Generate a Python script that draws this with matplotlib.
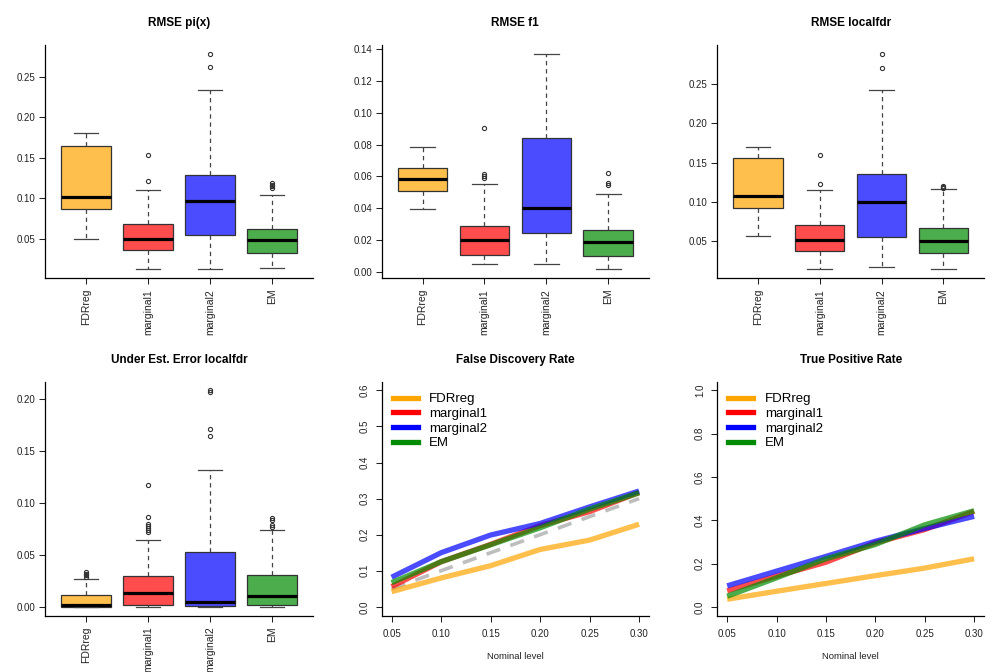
import numpy as np
import matplotlib
matplotlib.use("Agg")
import matplotlib.pyplot as plt

plt.rcParams["font.family"] = ["Liberation Sans", "DejaVu Sans"]

methods = ["FDRreg", "marginal1", "marginal2", "EM"]
line_colors = ["#FFA500", "#FF0000", "#0000FF", "#008B00"]

# boxplot summaries
pi_whislo = [0.050, 0.0123, 0.0131, 0.0143]
pi_q1 = [0.0873, 0.0365, 0.0545, 0.0328]
pi_med = [0.1016, 0.0496, 0.0963, 0.0488]
pi_q3 = [0.1644, 0.0689, 0.1287, 0.0627]
pi_whishi = [0.181, 0.1098, 0.2332, 0.104]
pi_fliers = [[], [0.154, 0.1213], [0.2787, 0.2623], [0.119, 0.117, 0.115, 0.113]]

f1_whislo = [0.0398, 0.0048, 0.0052, 0.0017]
f1_q1 = [0.0509, 0.0109, 0.0246, 0.0102]
f1_med = [0.0584, 0.0204, 0.0405, 0.0186]
f1_q3 = [0.0653, 0.0290, 0.0839, 0.0261]
f1_whishi = [0.0785, 0.0551, 0.137, 0.049]
f1_fliers = [[], [0.0903, 0.0617, 0.0603, 0.0590], [], [0.0624, 0.0557, 0.0545]]

lf_whislo = [0.0568, 0.0146, 0.0179, 0.015]
lf_q1 = [0.093, 0.0382, 0.0563, 0.0348]
lf_med = [0.1074, 0.0517, 0.1002, 0.0508]
lf_q3 = [0.1559, 0.0715, 0.1361, 0.0673]
lf_whishi = [0.1703, 0.1158, 0.2424, 0.1167]
lf_fliers = [[], [0.1593, 0.1234], [0.2884, 0.2698], [0.1209, 0.1195, 0.118]]

ue_whislo = [0.0, 0.0, 0.0, 0.0]
ue_q1 = [0.0003, 0.0022, 0.0006, 0.0022]
ue_med = [0.0015, 0.0132, 0.0051, 0.0106]
ue_q3 = [0.0116, 0.0299, 0.053, 0.0308]
ue_whishi = [0.0266, 0.0645, 0.1316, 0.0735]
ue_fliers = [[0.0334, 0.032, 0.0308, 0.029],
             [0.117, 0.0867, 0.080, 0.078, 0.076, 0.0735, 0.072],
             [0.208, 0.2067, 0.171, 0.1644],
             [0.0854, 0.0838, 0.0786, 0.077]]

levels = [0.05, 0.10, 0.15, 0.20, 0.25, 0.30]
fdr_fdrreg = [0.042, 0.080, 0.114, 0.159, 0.185, 0.229]
fdr_marg1 = [0.056, 0.125, 0.173, 0.225, 0.264, 0.317]
fdr_marg2 = [0.082, 0.150, 0.199, 0.231, 0.277, 0.321]
fdr_em = [0.067, 0.125, 0.172, 0.219, 0.271, 0.316]

tpr_fdrreg = [0.035, 0.072, 0.108, 0.144, 0.179, 0.222]
tpr_marg1 = [0.074, 0.142, 0.206, 0.296, 0.357, 0.441]
tpr_marg2 = [0.097, 0.165, 0.233, 0.303, 0.362, 0.418]
tpr_em = [0.049, 0.134, 0.222, 0.288, 0.379, 0.444]

W, H = 1008, 672
fig = plt.figure(figsize=(W / 100, H / 100), dpi=100)


def rect(x0, x1, y0, y1):
    return [x0 / W, 1 - y1 / H, (x1 - x0) / W, (y1 - y0) / H]


def style_axes(ax):
    for s in ("top", "right"):
        ax.spines[s].set_visible(False)
    for s in ("left", "bottom"):
        ax.spines[s].set_linewidth(0.9)
    ax.tick_params(length=4.3, width=0.75, labelsize=7, colors="#222222")


def box_panel(ax, title, whislo, q1, med, q3, whishi, fliers, yticks):
    stats = []
    for i in range(len(methods)):
        stats.append(dict(whislo=whislo[i], q1=q1[i], med=med[i], q3=q3[i],
                          whishi=whishi[i], fliers=fliers[i], label=methods[i]))
    bp = ax.bxp(stats, positions=range(1, 5), widths=0.8, capwidths=0.4,
                patch_artist=True,
                boxprops=dict(edgecolor="#333333", linewidth=0.9),
                medianprops=dict(color="black", linewidth=2.3, solid_capstyle="butt"),
                whiskerprops=dict(color="#444444", linewidth=0.9, linestyle=(0, (3.5, 3))),
                capprops=dict(color="#444444", linewidth=0.9),
                flierprops=dict(marker="o", markersize=3, markerfacecolor="none",
                                markeredgecolor="#333333", markeredgewidth=0.8))
    for patch, c in zip(bp["boxes"], line_colors):
        patch.set_facecolor(matplotlib.colors.to_rgba(c, 0.7))
    lo = min(whislo + [v for f in fliers for v in f])
    hi = max(whishi + [v for f in fliers for v in f])
    pad = 0.04 * (hi - lo)
    ax.set_ylim(lo - pad, hi + pad)
    ax.set_xlim(0.34, 4.66)
    ax.set_yticks(yticks)
    ax.set_yticklabels([f"{t:.2f}" for t in yticks])
    ax.set_xticks(range(1, 5))
    ax.set_xticklabels(methods, rotation=90)
    style_axes(ax)
    ax.tick_params(axis="y", pad=2.5)
    ax.tick_params(axis="x", pad=3.5, labelsize=7.5)
    ax.set_title(title, fontsize=8.5, fontweight="bold", pad=13.5)


def line_panel(ax, title, series, ymax, yticks, diagonal):
    if diagonal:
        ax.plot(levels, levels, color="#BEBEBE", linewidth=2.6,
                linestyle=(0, (4, 3)), zorder=1)
    for vals, c in zip(series, line_colors):
        ax.plot(levels, vals, color=c, alpha=0.7, linewidth=3.8, zorder=2,
                solid_capstyle="butt")
    for c, name in zip(line_colors, methods):
        ax.plot([], [], color=c, linewidth=3.8, label=name)
    ax.set_xlim(0.04, 0.31)
    ax.set_ylim(-0.04 * ymax, 1.04 * ymax)
    ax.set_xticks(levels)
    ax.set_xticklabels([f"{t:.2f}" for t in levels])
    ax.set_yticks(yticks)
    ax.set_yticklabels([f"{t:.1f}" for t in yticks], rotation=90, va="center")
    style_axes(ax)
    ax.tick_params(axis="x", pad=5.5)
    ax.tick_params(axis="y", pad=4.5)
    ax.set_xlabel("Nominal level", fontsize=6.8, color="#222222", labelpad=9)
    ax.set_title(title, fontsize=8.5, fontweight="bold", pad=13.5)
    ax.legend(loc="upper left", bbox_to_anchor=(0.012, 0.985), frameon=False,
              fontsize=9.5, handlelength=1.9, handletextpad=0.85,
              labelspacing=0.18, borderaxespad=0.2)


ax1 = fig.add_axes(rect(45, 313, 45, 278))
ax2 = fig.add_axes(rect(381.7, 649, 45, 278))
ax3 = fig.add_axes(rect(717.3, 984, 45, 278))
ax4 = fig.add_axes(rect(45, 313, 381.7, 615.5))
ax5 = fig.add_axes(rect(381.7, 649, 381.7, 615.5))
ax6 = fig.add_axes(rect(717.3, 984, 381.7, 615.5))

box_panel(ax1, "RMSE pi(x)", pi_whislo, pi_q1, pi_med, pi_q3, pi_whishi, pi_fliers,
          np.arange(0.05, 0.26, 0.05))
box_panel(ax2, "RMSE f1", f1_whislo, f1_q1, f1_med, f1_q3, f1_whishi, f1_fliers,
          np.arange(0.0, 0.141, 0.02))
box_panel(ax3, "RMSE localfdr", lf_whislo, lf_q1, lf_med, lf_q3, lf_whishi, lf_fliers,
          np.arange(0.05, 0.26, 0.05))
box_panel(ax4, "Under Est. Error localfdr", ue_whislo, ue_q1, ue_med, ue_q3, ue_whishi,
          ue_fliers, np.arange(0.0, 0.21, 0.05))

line_panel(ax5, "False Discovery Rate", [fdr_fdrreg, fdr_marg1, fdr_marg2, fdr_em],
           0.6, np.arange(0.0, 0.61, 0.1), True)
line_panel(ax6, "True Positive Rate", [tpr_fdrreg, tpr_marg1, tpr_marg2, tpr_em],
           1.0, np.arange(0.0, 1.01, 0.2), False)

fig.savefig("out.png", dpi=100, facecolor="white")
